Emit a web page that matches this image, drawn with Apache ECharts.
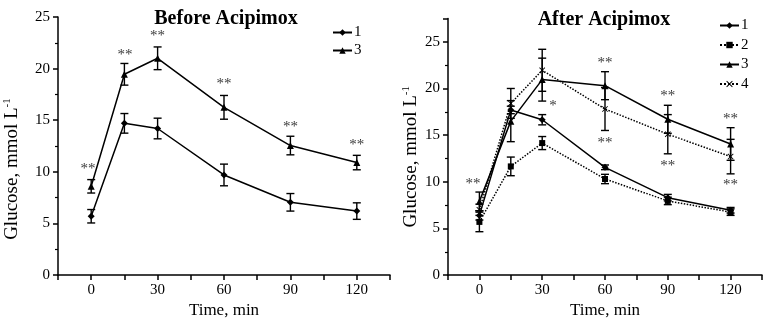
<!DOCTYPE html>
<html><head><meta charset="utf-8">
<script src="https://cdn.jsdelivr.net/npm/echarts@6/dist/echarts.min.js"></script>
<style>html,body{margin:0;padding:0;background:#fff}#c{width:765px;height:324px}</style>
</head><body><div id="c"></div>
<script>
// ---- data ----
const times = [0, 15, 30, 60, 90, 120];
const xTickLabels = [0, 30, 60, 90, 120];
const yTickLabels = [0, 5, 10, 15, 20, 25];
// Before Acipimox
const before1 = [5.7, 14.7, 14.2, 9.7, 7.05, 6.2];
const before1Err = [0.65, 0.95, 1.0, 1.05, 0.85, 0.8];
const before3 = [8.6, 19.45, 21.0, 16.25, 12.55, 10.9];
const before3Err = [0.65, 1.05, 1.1, 1.15, 0.9, 0.7];
// After Acipimox
const after1 = [6.4, 17.7, 16.65, 11.55, 8.3, 6.95];
const after1Err = [0.5, 0.4, 0.55, 0.25, 0.35, 0.3];
const after2 = [5.7, 11.65, 14.15, 10.3, 7.95, 6.75];
const after2Err = [1.05, 1.0, 0.7, 0.5, 0.4, 0.35];
const after3 = [7.9, 16.5, 20.95, 20.3, 16.7, 14.05];
const after3Err = [1.0, 2.2, 2.3, 1.5, 1.5, 1.75];
const after4 = [7.0, 18.4, 21.95, 17.8, 15.1, 12.7];
const after4Err = [0.6, 1.6, 2.25, 2.3, 2.1, 1.85];
// significance marks
const beforeStarX = [-1.5, 15.3, 30, 60, 90, 120];
const beforeStarY = [10.5, 21.5, 23.3, 18.65, 14.55, 12.8];
const beforeStarText = ['**', '**', '**', '**', '**', '**'];
const afterStarX = [-3, 35.2, 60, 60, 90, 90, 120, 120];
const afterStarY = [10.0, 18.3, 22.9, 14.4, 19.45, 11.86, 16.9, 9.9];
const afterStarText = ['**', '*', '**', '**', '**', '**', '**', '**'];

// ---- styles ----
const FONT = '"Liberation Serif", "DejaVu Serif", serif';
const BLACK = '#000';
const X_SYMBOL = 'path://M0,1L1,0L5,4L9,0L10,1L6,5L10,9L9,10L5,6L1,10L0,9L4,5Z';

function pts(v) { return times.map((t, i) => [t, v[i]]); }
function errs(v, e) { return times.map((t, i) => [t, v[i] - e[i], v[i] + e[i]]); }
function stars(xs, ys, txt) { return xs.map((x, i) => ({ value: [x, ys[i]], name: txt[i] })); }

function errItem(params, api) {
  const x = api.value(0), lo = api.value(1), hi = api.value(2);
  const a = api.coord([x, lo]), b = api.coord([x, hi]);
  const w = 4;
  const st = { stroke: BLACK, lineWidth: 1.4 };
  return { type: 'group', children: [
    { type: 'line', shape: { x1: a[0], y1: a[1], x2: b[0], y2: b[1] }, style: st },
    { type: 'line', shape: { x1: a[0] - w, y1: a[1], x2: a[0] + w, y2: a[1] }, style: st },
    { type: 'line', shape: { x1: b[0] - w, y1: b[1], x2: b[0] + w, y2: b[1] }, style: st }
  ]};
}

function lineSeries(name, v, idx, symbol, size, dotted) {
  return {
    type: 'line', name: name, data: pts(v), xAxisIndex: idx, yAxisIndex: idx,
    symbol: symbol, symbolSize: size, showSymbol: true,
    lineStyle: { color: BLACK, width: 1.5, type: dotted ? 'dotted' : 'solid' },
    itemStyle: { color: BLACK }, z: 3, animation: false
  };
}
function errSeries(v, e, idx) {
  return { type: 'custom', data: errs(v, e), xAxisIndex: idx, yAxisIndex: idx,
    encode: { x: 0, y: [1, 2] }, renderItem: errItem, z: 2, animation: false, silent: true };
}
function starSeries(xs, ys, txt, idx) {
  return { type: 'scatter', data: stars(xs, ys, txt), xAxisIndex: idx, yAxisIndex: idx,
    symbolSize: 0, silent: true, animation: false,
    label: { show: true, position: 'inside', formatter: p => p.name, color: BLACK,
      fontFamily: FONT, fontSize: 15, offset: [0, 2] } };
}

function xAxis(idx) {
  return {
    type: 'value', gridIndex: idx, min: -15, max: 135, interval: 15,
    axisLine: { show: true, onZero: false, lineStyle: { color: BLACK, width: 1.5 } },
    axisTick: { show: true, length: 5, lineStyle: { color: BLACK, width: 1.5 } },
    axisLabel: { color: BLACK, fontFamily: FONT, fontSize: 15, margin: 7,
      formatter: v => (xTickLabels.indexOf(v) >= 0 ? String(v) : '') },
    splitLine: { show: false },
    name: 'Time, min', nameLocation: 'middle', nameGap: 26,
    nameTextStyle: { color: BLACK, fontFamily: FONT, fontSize: 17 }
  };
}
function yAxis(idx, max, gap, shift) {
  return {
    type: 'value', gridIndex: idx, min: 0, max: max, interval: 5,
    axisLine: { show: true, onZero: false, lineStyle: { color: BLACK, width: 1.5 } },
    axisTick: { show: true, length: 5, lineStyle: { color: BLACK, width: 1.5 } },
    minorTick: { show: true, splitNumber: 2, length: 3, lineStyle: { color: BLACK, width: 1.2 } },
    axisLabel: { color: BLACK, fontFamily: FONT, fontSize: 15, margin: 8,
      formatter: v => (yTickLabels.indexOf(v) >= 0 ? String(v) : '') },
    splitLine: { show: false },
    name: '{a|Glucose, mmol L}{s|-1}', nameLocation: 'middle', nameGap: gap,
    nameTextStyle: { color: BLACK, fontFamily: FONT, fontSize: 19, padding: [0, shift, 0, 0],
      rich: { a: { fontFamily: FONT, fontSize: 19, color: BLACK },
              s: { fontFamily: FONT, fontSize: 11, color: BLACK, verticalAlign: 'top', padding: [0, 0, 9, 0] } } }
  };
}

const chart = echarts.init(document.getElementById('c'), null, { renderer: 'canvas' });
chart.setOption({
  animation: false,
  backgroundColor: '#fff',
  title: [
    { text: 'Before Acipimox', left: 221, top: 4, textAlign: 'center',
      textStyle: { fontFamily: FONT, fontSize: 20, fontWeight: 'bold', color: BLACK } },
    { text: 'After Acipimox', left: 599, top: 5, textAlign: 'center',
      textStyle: { fontFamily: FONT, fontSize: 20, fontWeight: 'bold', color: BLACK } }
  ],
  legend: [
    { data: ['1', '3'].map(n => ({ name: n })), orient: 'vertical', left: 327, top: 20,
      itemWidth: 19, itemHeight: 8, itemGap: 3, selectedMode: false,
      textStyle: { fontFamily: FONT, fontSize: 15, color: BLACK, padding: [0, 0, 0, -3] } },
    { data: ['1', '2', '3', '4'].map(n => ({ name: n })), orient: 'vertical', left: 714, top: 13,
      itemWidth: 19, itemHeight: 8, itemGap: 4.5, selectedMode: false,
      textStyle: { fontFamily: FONT, fontSize: 15, color: BLACK, padding: [0, 0, 0, -3] } }
  ],
  grid: [
    { left: 58, top: 17, width: 332, height: 260 },
    { left: 448, top: 18.5, width: 332, height: 258.5 }
  ],
  xAxis: [xAxis(0), xAxis(1)],
  yAxis: [yAxis(0, 25, 36, 46), yAxis(1, 27.5, 27, 20)],
  series: [
    errSeries(before1, before1Err, 0),
    errSeries(before3, before3Err, 0),
    lineSeries('1', before1, 0, 'diamond', 7, false),
    lineSeries('3', before3, 0, 'triangle', 7, false),
    starSeries(beforeStarX, beforeStarY, beforeStarText, 0),
    errSeries(after1, after1Err, 1),
    errSeries(after2, after2Err, 1),
    errSeries(after3, after3Err, 1),
    errSeries(after4, after4Err, 1),
    lineSeries('1', after1, 1, 'diamond', 7, false),
    lineSeries('2', after2, 1, 'rect', 6, true),
    lineSeries('3', after3, 1, 'triangle', 7, false),
    lineSeries('4', after4, 1, X_SYMBOL, 6, true),
    starSeries(afterStarX, afterStarY, afterStarText, 1)
  ]
});
</script></body></html>
